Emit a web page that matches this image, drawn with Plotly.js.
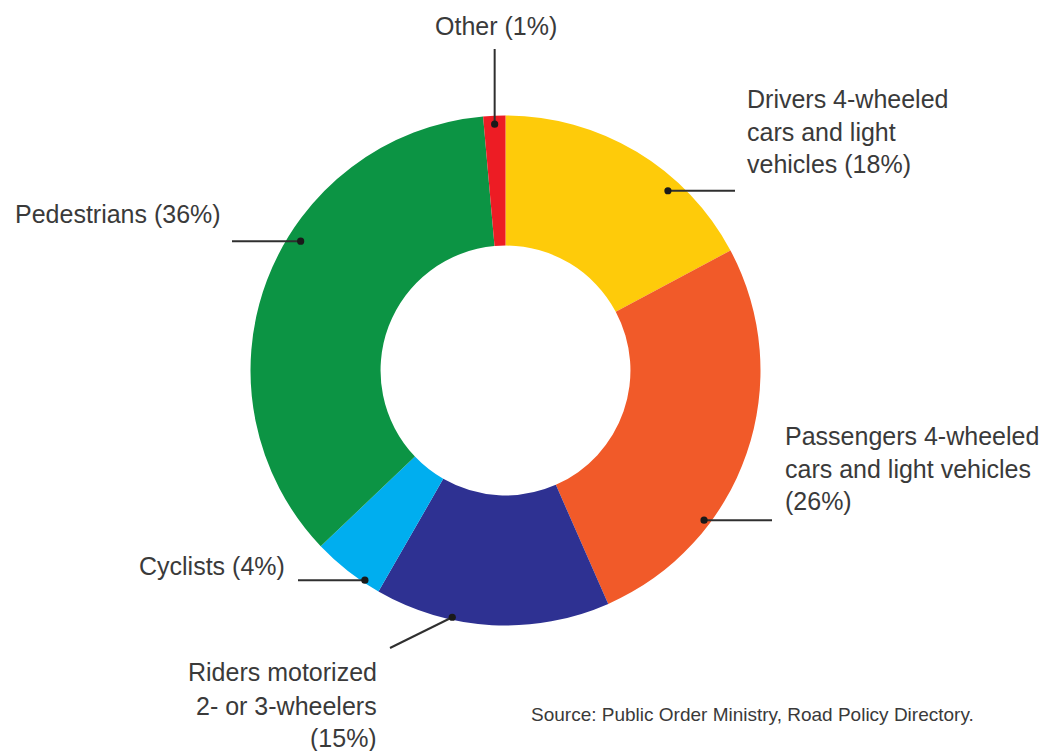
<!DOCTYPE html>
<html><head><meta charset="utf-8">
<script src="https://cdn.plot.ly/plotly-3.0.1.min.js"></script>
<style>html,body{margin:0;padding:0;background:#fff}#chart{width:1046px;height:751px}</style>
</head><body><div id="chart"></div>
<script>
// ---- data ----
const categories = ["Drivers 4-wheeled cars and light vehicles", "Passengers 4-wheeled cars and light vehicles", "Riders motorized 2- or 3-wheelers", "Cyclists", "Pedestrians", "Other"];
const shares = [17.2, 26.2, 14.9, 4.6, 35.7, 1.4];
const labelLines = [
  ["Drivers 4-wheeled", "cars and light", "vehicles (18%)"],
  ["Passengers 4-wheeled", "cars and light vehicles", "(26%)"],
  ["Riders motorized", "2- or 3-wheelers", "(15%)"],
  ["Cyclists (4%)"],
  ["Pedestrians (36%)"],
  ["Other (1%)"]
];
const sourceNote = "Source: Public Order Ministry, Road Policy Directory.";

// ---- style / layout ----
const colors = ["#FECB0A", "#F15A29", "#2E3192", "#00AEEF", "#0C9444", "#ED1C24"];
const W = 1046, H = 751;
const cx = 505.5, cy = 370.5, R = 255, HOLE = 0.49;
const FONT = '"Liberation Sans", Arial, sans-serif';
const TXT = '#3a3a3a';
// pointer placement: fraction along slice, radius fraction, line end, text anchor
const pointers = [
  {f: 0.68, r: 0.95, end: {x: 735}, tx: 746, ty: [99, 132, 164], anchor: 'left'},
  {f: 0.69, r: 0.975, end: {x: 772}, tx: 784, ty: [436, 469, 501], anchor: 'left'},
  {f: 0.67, r: 0.99, end: {x: 390, y: 648}, tx: 378, ty: [672, 706, 738], anchor: 'right'},
  {f: 0.24, r: 0.99, end: {x: 298}, tx: 286, ty: [566], anchor: 'right'},
  {f: 0.59, r: 0.95, end: {x: 232}, tx: 14, ty: [214], anchor: 'left'},
  {f: 0.5, r: 0.967, end: {y: 49}, tx: 495.5, ty: [26], anchor: 'center'}
];

const px = x => x / W, py = y => 1 - y / H;
const total = shares.reduce((a, b) => a + b, 0);

const trace = {
  type: 'pie',
  values: shares,
  labels: categories,
  marker: {colors: colors, line: {width: 0}},
  hole: HOLE,
  sort: false,
  direction: 'clockwise',
  rotation: 0,
  textinfo: 'none',
  hoverinfo: 'label+percent',
  showlegend: false,
  domain: {x: [px(cx - R), px(cx + R)], y: [py(cy + R), py(cy - R)]}
};

const shapes = [], annotations = [];
let cum = 0;
shares.forEach((v, i) => {
  const p = pointers[i];
  const ang = (cum + p.f * v) / total * 2 * Math.PI;
  cum += v;
  const dx = cx + p.r * R * Math.sin(ang);
  const dy = cy - p.r * R * Math.cos(ang);
  const ex = p.end.x !== undefined ? p.end.x : dx;
  const ey = p.end.y !== undefined ? p.end.y : dy;
  shapes.push({type: 'line', xref: 'paper', yref: 'paper', x0: px(dx), y0: py(dy), x1: px(ex), y1: py(ey),
    line: {color: '#2f2f2f', width: 2}});
  shapes.push({type: 'circle', xref: 'paper', yref: 'paper', xsizemode: 'pixel', ysizemode: 'pixel',
    xanchor: px(dx), yanchor: py(dy), x0: -3.6, x1: 3.6, y0: -3.6, y1: 3.6,
    fillcolor: '#1a1a1a', line: {width: 0}});
  labelLines[i].forEach((t, k) => {
    annotations.push({text: t, xref: 'paper', yref: 'paper', x: px(p.tx), y: py(p.ty[k]),
      xanchor: p.anchor, yanchor: 'middle', showarrow: false, borderpad: 0,
      font: {family: FONT, size: 25, color: TXT}});
  });
});
annotations.push({text: sourceNote, xref: 'paper', yref: 'paper', x: px(530), y: py(714),
  xanchor: 'left', yanchor: 'middle', showarrow: false, borderpad: 0,
  font: {family: FONT, size: 19, color: TXT}});

const layout = {
  width: W, height: H,
  margin: {l: 0, r: 0, t: 0, b: 0},
  paper_bgcolor: '#ffffff',
  plot_bgcolor: '#ffffff',
  shapes: shapes,
  annotations: annotations,
  showlegend: false
};
Plotly.newPlot('chart', [trace], layout, {displayModeBar: false, staticPlot: true});
</script>
</body></html>
